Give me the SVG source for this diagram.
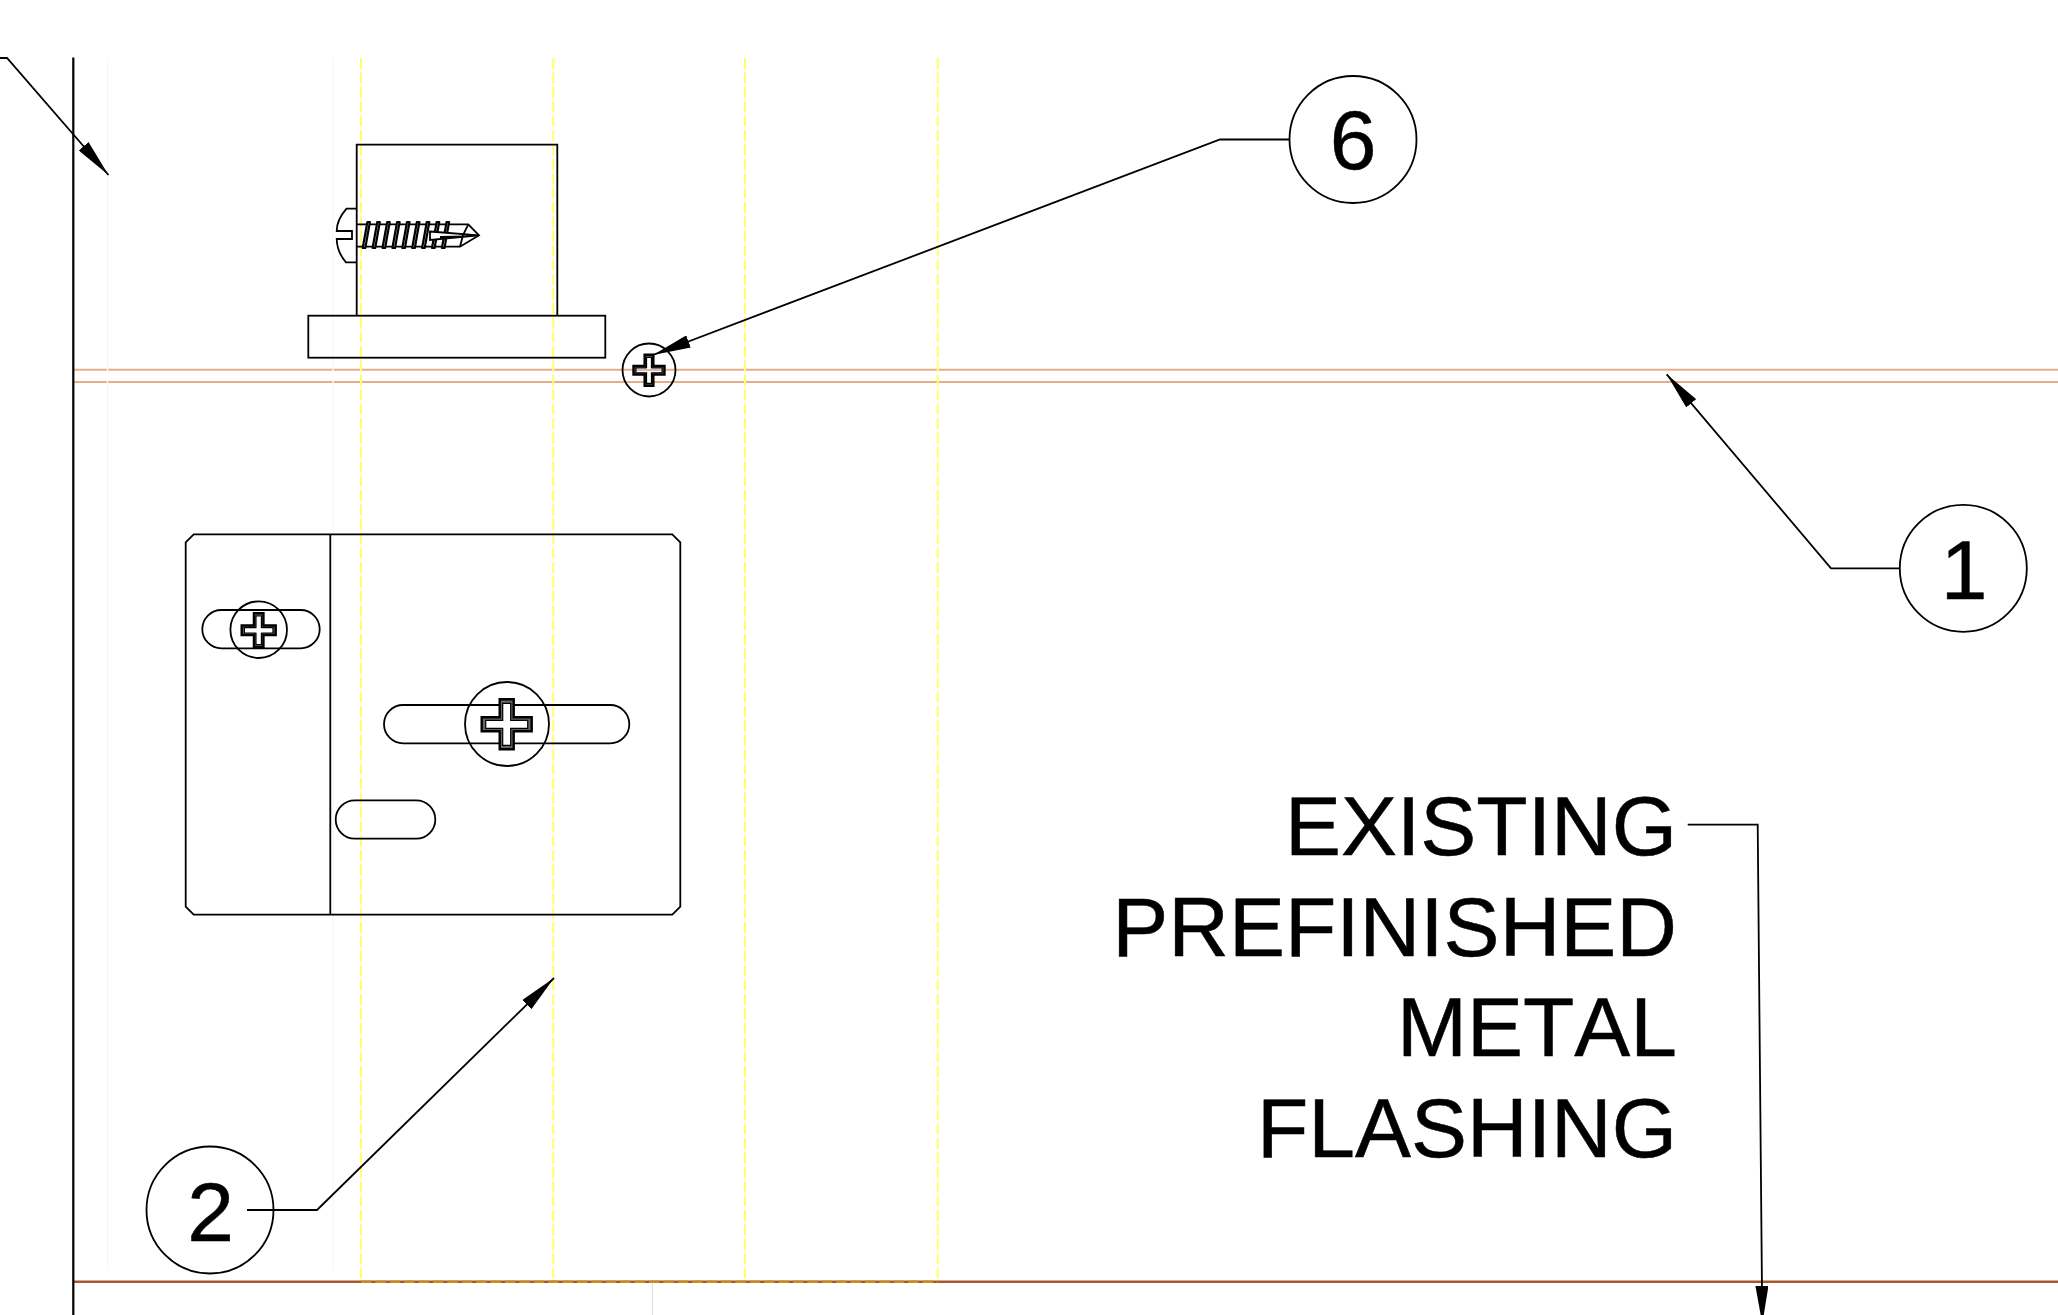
<svg xmlns="http://www.w3.org/2000/svg" xmlns:xlink="http://www.w3.org/1999/xlink" width="2058" height="1315" viewBox="0 0 2058 1315">
<style>
text{font-family:"Liberation Sans",Arial,sans-serif;font-size:84px;fill:#000;stroke:#000;stroke-width:.5;font-kerning:none}
.l{fill:none;stroke:#000;stroke-width:1.8}
.y{stroke:#ffff66;stroke-width:2;stroke-dasharray:11 3.4;fill:none}
.o{stroke:#e8ad88;stroke-width:2;fill:none}
.f{stroke:#f5f5f5;stroke-width:1;fill:none}
.ld{fill:none;stroke:#000;stroke-width:1.8;marker-end:url(#a)}
</style>
<defs>
<marker id="a" viewBox="0 0 38 13" refX="38" refY="6.5" markerWidth="38" markerHeight="13" markerUnits="userSpaceOnUse" orient="auto"><path d="M38 6.5 0 0V13Z" fill="#000"/></marker>
<g id="cross">
<path d="M-7 -25H7V-7H25V7H7V25H-7V7H-25V-7H-7Z" fill="#666" stroke="#000" stroke-width="2.4" vector-effect="non-scaling-stroke"/>
<path d="M-4 -21H4V-4H21V4H4V21H-4V4H-21V-4H-4Z" fill="#fff" stroke="#000" stroke-width="1.2" vector-effect="non-scaling-stroke"/>
<path d="M-4 -3V3H4V-3Z" fill="#fff"/>
</g>
<path id="th" d="M0 26 4.7 0 7.2 0 2.6 26Z" fill="#fff" stroke="#000" stroke-width="2.2" stroke-linejoin="round"/>
</defs>
<rect width="2058" height="1315" fill="#fff"/>
<g id="background">
<path class="f" d="M107.5 58V1270M333 58V1270"/>
<path class="o" d="M74 369.7H2058M74 382H2058"/>
<path d="M107.5 368V384M333 368V384" stroke="#fff" stroke-width="1.2" fill="none"/>
<path class="y" d="M361 58V1281M553.3 58V1281M745 58V1281M937.7 58V1281"/>
<path d="M74 1281.7H2058" stroke="#a5582a" stroke-width="2.4" fill="none"/>
<path d="M361 1281.7H938" stroke="#c58d22" stroke-width="2.4" stroke-dasharray="10.4 4" fill="none"/>
<path d="M652.4 1283V1315" stroke="#ddd" stroke-width="1" fill="none"/>
<path d="M73.3 57.5V1315" stroke="#000" stroke-width="2.2" fill="none"/>
</g>
<g id="section">
<path class="l" d="M356.7 315.7V144.7H557.3V315.7"/>
<rect class="l" x="308.3" y="315.7" width="297" height="42"/>
</g>
<g id="screw">
<path class="l" d="M356.7 208.7H346.5Q336.7 220 336.7 231H352V239H336.7Q337 252 346 262.3H356.7"/>
<path class="l" d="M356.7 224.3H468.3L479 235.3 460 246.7H356.7"/>
<use xlink:href="#th" href="#th" x="362.7" y="222"/>
<use xlink:href="#th" href="#th" x="372.6" y="222"/>
<use xlink:href="#th" href="#th" x="382.5" y="222"/>
<use xlink:href="#th" href="#th" x="392.4" y="222"/>
<use xlink:href="#th" href="#th" x="402.3" y="222"/>
<use xlink:href="#th" href="#th" x="412.2" y="222"/>
<use xlink:href="#th" href="#th" x="422.1" y="222"/>
<use xlink:href="#th" href="#th" x="432" y="222"/>
<use xlink:href="#th" href="#th" x="441.9" y="222"/>
<path d="M430 231.5 479 235.3 430 240Z" fill="#fff" stroke="#000" stroke-width="1.8"/>
<path d="M440 236 479 235.3 440 239Z" fill="#000"/>
<path class="l" d="M468.3 224.3 463 235 460 246.7"/>
</g>
<g id="plate">
<path class="l" d="M193.7 534.3H672.3L680.3 542.3V906.7L672.3 914.7H193.7L185.7 906.7V542.3Z"/>
<path class="l" d="M330.3 534.3V914.7"/>
<rect class="l" x="202.3" y="610" width="117.4" height="38.3" rx="19.1"/>
<rect class="l" x="384" y="705" width="245.3" height="38.3" rx="19.1"/>
<rect class="l" x="335.7" y="800.3" width="99.6" height="38.4" rx="19.2"/>
</g>
<g id="plate-screw-1">
<circle class="l" cx="258.7" cy="629.7" r="28.3"/>
<use xlink:href="#cross" href="#cross" transform="translate(258.7 630.3) scale(.68)"/>
</g>
<g id="plate-screw-2">
<circle class="l" cx="507" cy="724" r="42"/>
<use xlink:href="#cross" href="#cross" transform="translate(506.7 724.3)"/>
</g>
<g id="screw-6">
<circle class="l" cx="649" cy="370" r="26.5"/>
<use xlink:href="#cross" href="#cross" transform="translate(649 370.3) scale(.62)"/>
<path d="M637 370H661" stroke="#c9a08a" stroke-width="1.4" fill="none"/>
</g>
<g id="connectors">
<path class="ld" d="M0 58H7L108.5 175"/>
<path class="ld" d="M1290 139.5H1220L653 355"/>
<path class="ld" d="M1900 568.3H1831L1666.7 374.3"/>
<path class="ld" d="M247 1210H317L554 978"/>
<path class="ld" d="M1687.7 824.7H1757.7L1762.3 1324"/>
</g>
<g id="callout-6"><circle class="l" cx="1353" cy="139.5" r="63.5"/><text x="1353" y="169" text-anchor="middle">6</text></g>
<g id="callout-1"><circle class="l" cx="1963.3" cy="568.3" r="63.5"/><text x="1964" y="599" text-anchor="middle">1</text></g>
<g id="callout-2"><circle class="l" cx="210" cy="1210" r="63.5"/><text x="210.5" y="1241" text-anchor="middle">2</text></g>
<g id="label" text-anchor="end">
<text x="1677" y="855">EXISTING</text>
<text x="1677" y="956">PREFINISHED</text>
<text x="1677" y="1056">METAL</text>
<text x="1677" y="1157">FLASHING</text>
</g>
</svg>
